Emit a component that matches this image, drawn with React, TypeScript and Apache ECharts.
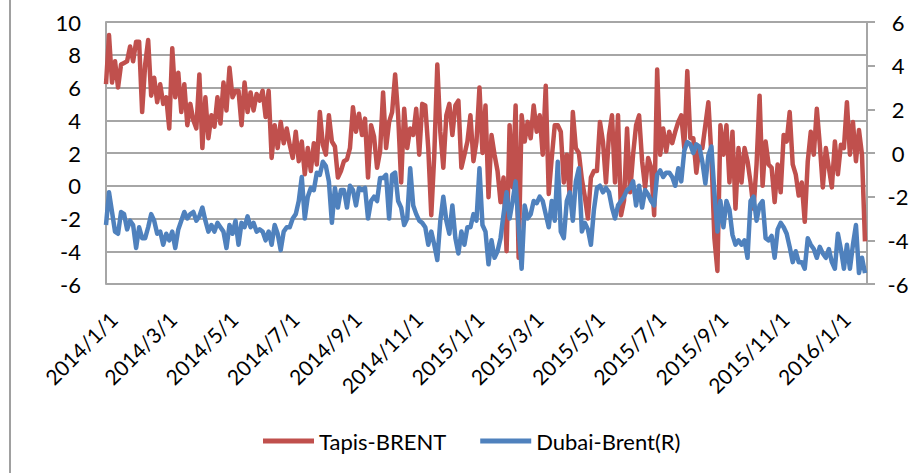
import React, { useEffect, useRef } from "react";
import * as echarts from "echarts";

// ---- data ----
const startDate = "2014-01-01";
const endDate = "2016-01-29";
const sampleStepDays = 3;

const seriesNames = ["Tapis-BRENT", "Dubai-Brent(R)"];

// Tapis-BRENT (left axis), one value every 3 days from 2014-01-01
const tapisBrent = [
  6.2, 9.2, 6.3, 7.6, 6.0, 7.4, 7.5, 7.6, 8.5, 7.6,
  8.8, 8.8, 4.5, 7.4, 8.9, 5.5, 6.6, 5.1, 6.2, 5.0,
  5.4, 3.5, 8.4, 5.4, 6.9, 4.5, 6.2, 3.7, 5.0, 4.0,
  3.5, 6.8, 2.3, 5.4, 2.9, 4.3, 3.6, 5.4, 3.8, 6.3,
  4.6, 7.2, 5.4, 5.8, 5.8, 3.7, 6.3, 4.5, 5.7, 4.6,
  5.6, 5.2, 5.8, 4.2, 5.8, 1.7, 3.7, 2.3, 3.9, 2.6,
  3.5, 2.5, 1.7, 3.3, 1.5, 2.7, 0.7, 2.3, 0.9, 2.6,
  1.3, 4.5, 2.5, 1.9, 4.3, 2.7, 2.4, 0.5, 0.9, 1.5,
  1.6, 2.3, 4.8, 3.3, 4.4, 3.1, 4.1, 0.5, 3.7, 3.0,
  1.1, 2.1, 5.7, 2.3, 3.9, 4.5, 6.8, 4.3, 0.2, 4.7,
  2.3, 3.5, 3.1, 4.7, 1.9, 5.0, 4.9, 2.3, -1.8, 1.9,
  7.4, 3.3, 1.1, 4.3, 5.0, 3.1, 4.9, 5.2, 1.1, 1.9,
  2.7, 4.3, 1.5, 2.7, 6.0, 2.0, 4.9, -0.7, 3.1, 1.9,
  0.9, -1.0, 0.5, -4.0, 3.7, -0.1, 4.9, -4.4, 4.3, 2.7,
  3.9, 2.9, 4.9, 3.3, 4.3, 1.9, 6.1, -0.5, 1.7, 3.7,
  3.7, 3.3, 0.2, 1.9, -0.7, 4.5, 2.3, 2.0, 0.4, -0.7,
  -2.0, 0.5, 0.9, 0.9, 3.9, 2.7, 0.2, 3.1, 4.3, 0.2,
  4.3, -1.8, -0.9, 3.5, -0.4, 1.9, 3.7, 4.3, 1.5, -0.1,
  1.7, 1.1, -1.8, 7.1, 1.9, 3.5, 2.1, 3.3, 2.6, 3.3,
  3.9, 4.3, 2.3, 7.0, 2.9, 2.9, 0.8, 2.3, 2.3, 3.7,
  5.1, 1.9, -3.2, -5.2, 3.7, 1.9, 3.7, 0.2, 3.3, -1.4,
  2.3, 0.2, 2.3, 1.5, 0.2, -1.4, 1.3, 5.5, 0.0, 2.7,
  1.3, 1.1, -1.0, 1.3, -0.4, 3.1, 2.7, 4.5, 1.3, 0.7,
  -0.6, 0.2, -2.2, 1.5, 3.3, 1.9, 4.7, 2.5, -0.1, 2.3,
  1.1, -0.1, 2.7, 0.7, 2.5, 2.3, 5.1, 1.9, 3.9, 1.5,
  3.4, 1.9, -3.4,
];

// Dubai-Brent (right axis), same sampling dates
const dubaiBrent = [
  -3.3, -1.8, -2.7, -3.6, -3.7, -2.7, -2.8, -3.5, -3.1, -3.3,
  -4.35, -3.4, -3.9, -3.9, -3.4, -2.8, -3.1, -3.7, -3.6, -4.2,
  -3.7, -4.0, -3.6, -4.35, -3.5, -3.1, -2.7, -3.0, -2.8, -2.7,
  -3.1, -2.9, -2.5, -3.1, -3.6, -3.3, -3.6, -3.2, -3.4, -3.6,
  -4.35, -3.3, -3.7, -3.1, -4.2, -3.2, -3.4, -2.9, -3.4, -3.2,
  -3.6, -3.5, -3.6, -4.0, -3.6, -4.2, -3.3, -3.7, -4.45, -3.6,
  -3.4, -3.4, -3.0, -2.8, -2.2, -1.1, -3.0, -2.0, -1.6, -1.7,
  -0.9, -1.0, -0.4, -0.6, -1.3, -3.2, -1.6, -2.5, -1.7, -1.7,
  -2.5, -1.5, -1.7, -2.4, -1.6, -1.7, -1.6, -3.0, -2.2, -2.0,
  -2.2, -1.15, -1.15, -1.0, -3.0, -1.0, -0.9, -2.2, -2.5, -3.3,
  -3.0, -0.7, -2.4, -2.8, -3.1, -3.2, -3.4, -4.2, -3.6, -4.2,
  -4.9, -3.1, -2.0, -3.1, -3.7, -2.4, -3.9, -4.6, -3.6, -4.2,
  -3.4, -3.4, -2.8, -3.1, -0.7, -3.3, -3.6, -5.1, -4.0, -4.8,
  -4.5, -3.9, -2.8, -1.8, -3.0, -2.2, -1.3, -3.4, -5.3, -2.4,
  -3.0, -2.8, -2.2, -2.3, -2.0, -2.2, -2.8, -3.4, -2.2, -3.1,
  -0.4, -3.6, -3.9, -2.2, -1.8, -3.1, -1.3, -0.7, -3.6, -3.2,
  -3.5, -4.2, -2.6, -1.6, -1.5, -1.8, -1.6, -1.8, -2.5, -3.0,
  -2.4, -2.2, -2.0, -1.7, -1.6, -1.3, -2.4, -1.5, -2.5, -1.7,
  -1.9, -2.2, -2.4, -1.0, -0.8, -1.1, -0.9, -0.9, -1.1, -1.5,
  -0.7, -1.3, 0.1, 0.5, 0.4, 0.0, 0.4, 0.3, -0.4, -1.4,
  -0.1, 0.3, -1.8, -3.6, -2.2, -3.4, -2.2, -2.6, -3.75, -4.2,
  -4.0, -4.2, -4.0, -4.8, -2.2, -2.0, -3.1, -2.4, -2.2, -3.9,
  -4.0, -3.8, -4.8, -3.5, -3.2, -3.4, -3.7, -4.3, -5.0, -4.5,
  -5.0, -5.0, -5.3, -3.9, -4.2, -4.4, -4.8, -4.3, -4.6, -4.8,
  -4.4, -5.0, -5.3, -3.7, -4.4, -5.3, -4.2, -5.3, -4.2, -3.3,
  -5.5, -4.8, -5.5,
];

const leftAxis = { min: -6, max: 10, interval: 2 };
const rightAxis = { min: -6, max: 6, interval: 2 };

// ---- helpers ----
const DAY = 86400000;
const fmt = (t: number) => {
  const d = new Date(t);
  const y = d.getUTCFullYear();
  const m = String(d.getUTCMonth() + 1).padStart(2, "0");
  const dd = String(d.getUTCDate()).padStart(2, "0");
  return `${y}-${m}-${dd}`;
};
const t0 = Date.parse(startDate + "T00:00:00Z");
const t1 = Date.parse(endDate + "T00:00:00Z");
const categories: string[] = [];
for (let t = t0; t <= t1; t += DAY) categories.push(fmt(t));
const sampleDate = (i: number) => fmt(t0 + i * sampleStepDays * DAY);

const COLORS = ["#C0504D", "#4F81BD"];
const GRID_GRAY = "#A6A6A6";
const FONT = "Lato, 'Open Sans', sans-serif";

export default function App() {
  const ref = useRef<HTMLDivElement>(null);
  useEffect(() => {
    if (!ref.current) return;
    const chart = echarts.init(ref.current, null, { renderer: "svg" });
    chart.setOption({
      animation: false,
      textStyle: { fontFamily: FONT },
      grid: { left: 106, right: 55, top: 22, bottom: 189 },
      legend: {
        data: seriesNames,
        left: 258,
        top: 423,
        icon: "rect",
        itemWidth: 51,
        itemHeight: 5,
        itemGap: 34,
        textStyle: { fontSize: 22, color: "#000", fontFamily: FONT, lineHeight: 26 },
      },
      graphic: [
        {
          type: "line",
          shape: { x1: 10, y1: 0, x2: 10, y2: 473 },
          style: { stroke: "#A0A0A0", lineWidth: 2 },
        },
      ],
      xAxis: {
        type: "category",
        data: categories,
        boundaryGap: false,
        axisLine: { show: true, lineStyle: { color: GRID_GRAY, width: 2 } },
        axisTick: { show: false },
        splitLine: { show: false },
        axisLabel: {
          interval: (index: number, value: string) => {
            const parts = value.split("-");
            return parts[2] === "01" && Number(parts[1]) % 2 === 1;
          },
          formatter: (value: string) => {
            const [y, m, d] = value.split("-");
            return `${y}/${Number(m)}/${Number(d)}`;
          },
          rotate: 45,
          align: "right",
          verticalAlign: "top",
          margin: 24,
          fontSize: 21,
          color: "#000",
          fontFamily: FONT,
        },
      },
      yAxis: [
        {
          type: "value",
          position: "left",
          min: leftAxis.min,
          max: leftAxis.max,
          interval: leftAxis.interval,
          axisLine: { show: true, lineStyle: { color: GRID_GRAY, width: 2 } },
          axisTick: { show: false },
          splitLine: { show: true, lineStyle: { color: GRID_GRAY, width: 2 } },
          axisLabel: { margin: 25, fontSize: 22, color: "#000", fontFamily: FONT },
        },
        {
          type: "value",
          position: "right",
          min: rightAxis.min,
          max: rightAxis.max,
          interval: rightAxis.interval,
          axisLine: { show: true, lineStyle: { color: GRID_GRAY, width: 2 } },
          axisTick: { show: true, length: 8, lineStyle: { color: GRID_GRAY, width: 2 } },
          splitLine: { show: false },
          axisLabel: { margin: 31, fontSize: 22, color: "#000", fontFamily: FONT, align: "center" },
        },
      ],
      series: [
        {
          name: seriesNames[0],
          type: "line",
          yAxisIndex: 0,
          data: tapisBrent.map((v, i) => [sampleDate(i), v]),
          showSymbol: false,
          symbol: "none",
          lineStyle: { color: COLORS[0], width: 4.5, join: "round" },
          itemStyle: { color: COLORS[0] },
        },
        {
          name: seriesNames[1],
          type: "line",
          yAxisIndex: 1,
          data: dubaiBrent.map((v, i) => [sampleDate(i), v]),
          showSymbol: false,
          symbol: "none",
          lineStyle: { color: COLORS[1], width: 4.5, join: "round" },
          itemStyle: { color: COLORS[1] },
        },
      ],
    });
    return () => chart.dispose();
  }, []);
  return (
    <div
      ref={ref}
      style={{ position: "fixed", left: 0, top: 0, width: 922, height: 473, background: "#fff" }}
    />
  );
}
